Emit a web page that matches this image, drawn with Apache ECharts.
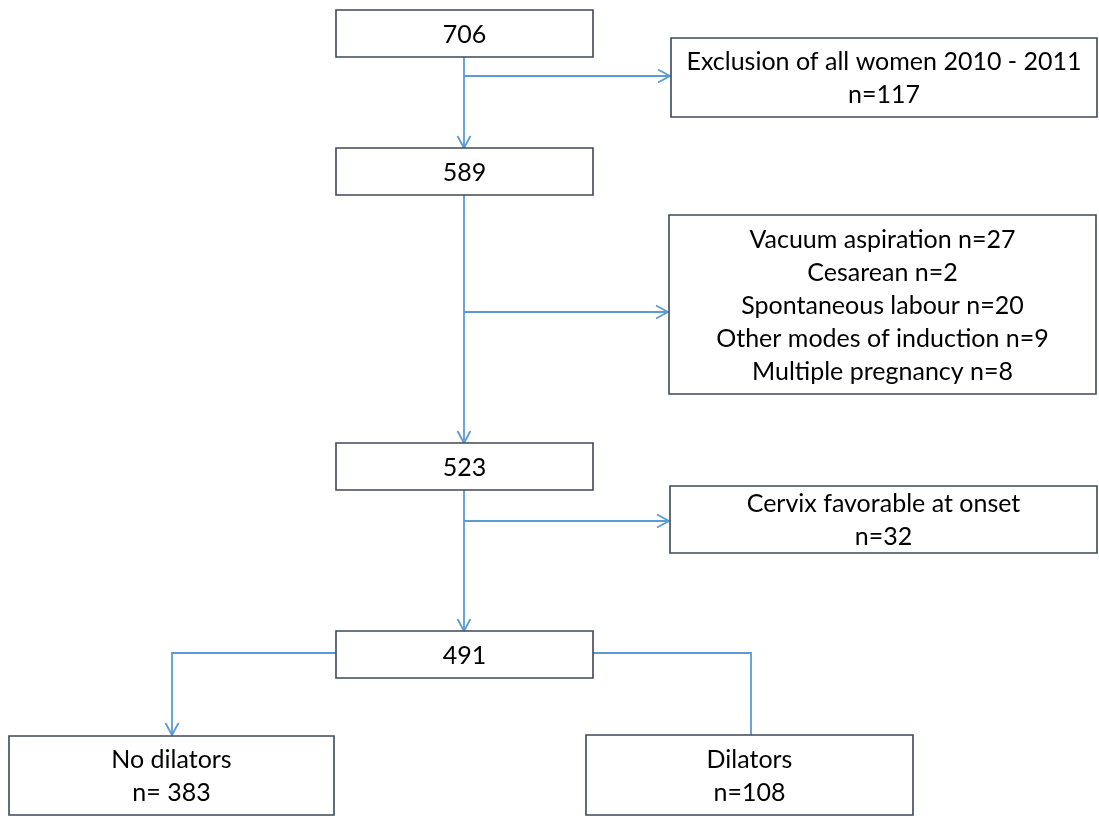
<!DOCTYPE html>
<html>
<head>
<meta charset="utf-8">
<script src="https://cdn.jsdelivr.net/npm/echarts@6/dist/echarts.min.js"></script>
<style>
  html, body { margin: 0; padding: 0; background: #fff; }
  #chart { width: 1099px; height: 816px; }
</style>
</head>
<body>
<div id="chart"></div>
<script>
// flow boxes: text of each box
const boxLabels = [
  "706",
  "Exclusion of all women 2010 - 2011\nn=117",
  "589",
  "Vacuum aspiration n=27\nCesarean n=2\nSpontaneous labour n=20\nOther modes of induction n=9\nMultiple pregnancy n=8",
  "523",
  "Cervix favorable at onset\nn=32",
  "491",
  "No dilators\nn= 383",
  "Dilators\nn=108",
];

// box extents in diagram units [x0, y0, x1, y1]
const boxExtents = [
  [336, 10, 593, 57],
  [671, 38, 1097, 117],
  [336, 148, 593, 195],
  [669, 215, 1096, 394],
  [336, 443, 593, 490],
  [670, 486, 1097, 553],
  [336, 631, 593, 678],
  [9, 736, 334, 815],
  [586, 735, 913, 815],
];

// connectors: polyline points and whether an arrowhead is drawn at the end
const connectorPaths = [
  [[464, 57], [464, 148]],
  [[464, 76], [670, 76]],
  [[464, 195], [464, 443]],
  [[464, 312], [668, 312]],
  [[464, 490], [464, 631]],
  [[464, 521], [669, 521]],
  [[336, 653], [172, 653], [172, 735]],
  [[593, 653], [751, 653], [751, 735]],
];
const connectorArrows = [true, true, true, true, true, true, true, false];

const chart = echarts.init(document.getElementById("chart"));

const boxData = boxExtents.map((b, i) => [b[0], b[1], b[2], b[3], i]);
const lineData = connectorPaths.map((p, i) => [i]);

function renderBox(params, api) {
  const i = api.value(4);
  const b = boxExtents[i];
  const p0 = api.coord([b[0], b[1]]);
  const p1 = api.coord([b[2], b[3]]);
  return {
    type: "group",
    children: [
      {
        type: "rect",
        shape: { x: p0[0], y: p0[1], width: p1[0] - p0[0], height: p1[1] - p0[1] },
        style: { fill: "#fff", stroke: "#3e4857", lineWidth: 1.6 },
      },
      {
        type: "text",
        x: (p0[0] + p1[0]) / 2,
        y: (p0[1] + p1[1]) / 2 + 1,
        style: {
          text: boxLabels[i],
          fill: "#000",
          fontFamily: "Lato",
          fontSize: 25,
          lineHeight: 33,
          align: "center",
          verticalAlign: "middle",
        },
      },
    ],
  };
}

function renderConnector(params, api) {
  const i = api.value(0);
  const pts = connectorPaths[i].map((p) => api.coord(p));
  const children = [
    {
      type: "polyline",
      shape: { points: pts },
      style: { stroke: "#5b9bd5", lineWidth: 1.8, fill: null },
    },
  ];
  if (connectorArrows[i]) {
    const a = pts[pts.length - 2];
    const e = pts[pts.length - 1];
    const len = Math.hypot(e[0] - a[0], e[1] - a[1]);
    const ux = (e[0] - a[0]) / len;
    const uy = (e[1] - a[1]) / len;
    const back = 12;
    const half = 6.5;
    children.push({
      type: "polyline",
      shape: {
        points: [
          [e[0] - ux * back - uy * half, e[1] - uy * back + ux * half],
          e,
          [e[0] - ux * back + uy * half, e[1] - uy * back - ux * half],
        ],
      },
      style: { stroke: "#5b9bd5", lineWidth: 1.8, fill: null },
    });
  }
  return { type: "group", children };
}

chart.setOption({
  backgroundColor: "#fff",
  animation: false,
  grid: { left: 0, right: 0, top: 0, bottom: 0 },
  xAxis: { type: "value", min: 0, max: 1099, show: false },
  yAxis: { type: "value", min: 0, max: 816, inverse: true, show: false },
  series: [
    {
      type: "custom",
      renderItem: renderConnector,
      data: lineData,
      clip: false,
      z: 1,
    },
    {
      type: "custom",
      renderItem: renderBox,
      data: boxData,
      clip: false,
      z: 2,
    },
  ],
});
</script>
</body>
</html>
